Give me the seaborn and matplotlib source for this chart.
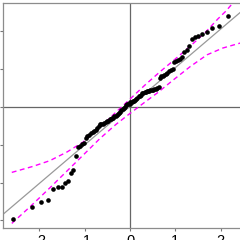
import matplotlib
matplotlib.use("Agg")
import matplotlib.pyplot as plt
import pandas as pd
import seaborn as sns

# theoretical quantiles (x) and sample quantiles (y)
theo_q = [
    -2.58, -2.17, -1.96, -1.81, -1.70, -1.60, -1.51, -1.44, -1.37, -1.31,
    -1.25, -1.20, -1.15, -1.10, -1.06, -1.02, -0.97, -0.94, -0.90, -0.86,
    -0.82, -0.79, -0.76, -0.72, -0.69, -0.66, -0.63, -0.60, -0.57, -0.54,
    -0.51, -0.48, -0.45, -0.43, -0.40, -0.37, -0.35, -0.32, -0.29, -0.27,
    -0.24, -0.22, -0.19, -0.16, -0.14, -0.11, -0.09, -0.06, -0.04, -0.01,
    0.01, 0.04, 0.06, 0.09, 0.11, 0.14, 0.16, 0.19, 0.22, 0.24,
    0.27, 0.29, 0.32, 0.35, 0.37, 0.40, 0.43, 0.45, 0.48, 0.51,
    0.54, 0.57, 0.60, 0.63, 0.66, 0.69, 0.72, 0.76, 0.79, 0.82,
    0.86, 0.90, 0.94, 0.97, 1.02, 1.06, 1.10, 1.15, 1.20, 1.25,
    1.31, 1.37, 1.44, 1.51, 1.60, 1.70, 1.81, 1.96, 2.17, 2.58,
]
sample_q = [
    -2.97, -2.64, -2.50, -2.47, -2.18, -2.12, -2.12, -2.02, -1.95, -1.75,
    -1.67, -1.30, -1.06, -1.02, -0.98, -0.94, -0.81, -0.77, -0.73, -0.69,
    -0.66, -0.64, -0.62, -0.56, -0.50, -0.46, -0.45, -0.44, -0.42, -0.40,
    -0.38, -0.36, -0.33, -0.32, -0.29, -0.28, -0.25, -0.24, -0.21, -0.19,
    -0.16, -0.12, -0.08, -0.05, -0.03, 0.01, 0.04, 0.07, 0.08, 0.09,
    0.12, 0.13, 0.15, 0.16, 0.19, 0.21, 0.24, 0.28, 0.30, 0.33,
    0.36, 0.38, 0.39, 0.40, 0.41, 0.42, 0.42, 0.44, 0.44, 0.46,
    0.47, 0.48, 0.50, 0.54, 0.78, 0.81, 0.82, 0.85, 0.87, 0.91,
    0.94, 0.97, 1.01, 1.19, 1.22, 1.23, 1.26, 1.32, 1.46, 1.50,
    1.62, 1.79, 1.84, 1.88, 1.92, 1.98, 2.10, 2.15, 2.42, 2.55,
]

# confidence envelope
upper_x = [-2.61, -2.14, -1.77, -1.39, -1.04, -0.66, -0.33, 0.00, 0.33,
           0.66, 0.99, 1.33, 1.66, 1.94, 2.12, 2.27, 2.58]
upper_y = [-1.73, -1.57, -1.42, -1.19, -0.93, -0.53, -0.16, 0.21, 0.58,
           0.93, 1.26, 1.61, 1.97, 2.33, 2.54, 2.75, 3.20]
lower_x = [-2.61, -2.19, -1.77, -1.21, -0.66, -0.31, 0.00, 0.33, 0.60,
           0.95, 1.33, 1.70, 2.05, 2.43, 2.58]
lower_y = [-3.08, -2.62, -2.14, -1.48, -0.83, -0.46, -0.17, 0.13, 0.37,
           0.71, 1.07, 1.38, 1.56, 1.69, 1.75]

line_intercept = 0.02
line_slope = 1.02

x_ticks = [-2, -1, 0, 1, 2]
y_ticks = [-3, -2, -1, 0, 1, 2]

sns.set_theme(style="white")
plt.rcParams["font.family"] = ["Liberation Sans", "DejaVu Sans"]
plt.rcParams["axes.unicode_minus"] = False

points_df = pd.DataFrame({"theoretical": theo_q, "sample": sample_q})
upper_df = pd.DataFrame({"x": upper_x, "y": upper_y})
lower_df = pd.DataFrame({"x": lower_x, "y": lower_y})

fig = plt.figure(figsize=(2.4, 2.4), dpi=100)
ax = fig.add_axes([3 / 240, 12 / 240, 247 / 240, 225 / 240])

ax.axhline(0, color="#666666", lw=0.9, zorder=1)
ax.axvline(0, color="#666666", lw=0.9, zorder=1)
ax.axline((0, line_intercept), slope=line_slope, color="#999999", lw=0.9, zorder=1)

for band in (upper_df, lower_df):
    sns.lineplot(data=band, x="x", y="y", ax=ax, sort=False, estimator=None,
                 color="#ff00ff", lw=1.0, linestyle=(0, (3.5, 2.5)), zorder=2)

sns.scatterplot(data=points_df, x="theoretical", y="sample", ax=ax,
                color="black", s=11, linewidth=0, zorder=3)

ax.set_xlim(-2.804, 2.649)
ax.set_ylim(-3.201, 2.751)
ax.set_xticks(x_ticks)
ax.set_xticklabels([str(t) for t in x_ticks])
ax.set_yticks(y_ticks)
ax.set_yticklabels([str(t) for t in y_ticks])
ax.set_xlabel("")
ax.set_ylabel("")
ax.tick_params(axis="both", direction="out", length=2.4, width=0.8,
               color="#777777", labelsize=10.5, pad=2.0, labelcolor="black")
ax.tick_params(axis="x", bottom=True)
ax.tick_params(axis="y", left=True)
for spine in ax.spines.values():
    spine.set_color("#8c8c8c")
    spine.set_linewidth(0.9)

fig.savefig("out.png", dpi=100)
plt.close(fig)
